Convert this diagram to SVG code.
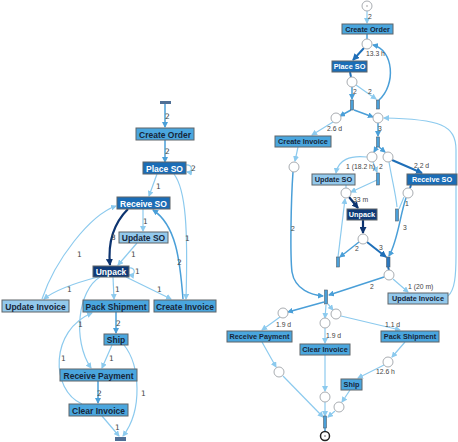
<svg xmlns="http://www.w3.org/2000/svg" width="458" height="442" viewBox="0 0 458 442">
<style>
.box{stroke:#5f6468;stroke-width:1}
.med{fill:#4aa6de}
.dark{fill:#1b6db6}
.navy{fill:#0f3a78}
.light{fill:#93c9ec}
.tl{font-family:"Liberation Sans",Arial,sans-serif;font-weight:bold;font-size:8.5px;text-anchor:middle}
.tr{font-family:"Liberation Sans",Arial,sans-serif;font-weight:bold;font-size:7.3px;text-anchor:middle}
.tw{fill:#ffffff}
.tk{fill:#17263a}
.lbl{font-family:"DejaVu Sans",sans-serif;font-size:7.5px;fill:#444}
.lbr{font-family:"Liberation Sans",Arial,sans-serif;font-size:6.8px;fill:#444}
.e{fill:none}
.el{stroke:#8ccaee;stroke-width:1.2}
.em{stroke:#4a9fd8;stroke-width:1.5}
.ed{stroke:#1f6fb8;stroke-width:2}
.en{stroke:#0d3470;stroke-width:2.2}
.pl{fill:#ffffff;stroke:#a9adb2;stroke-width:1}
.bar{fill:#4a9fd8;stroke:#56606a;stroke-width:0.6}
</style>
<defs>
<marker id="al" markerUnits="userSpaceOnUse" markerWidth="6" markerHeight="6" refX="5" refY="3" orient="auto"><path d="M0,0 L6,3 L0,6 z" fill="#8ccaee"/></marker>
<marker id="am" markerUnits="userSpaceOnUse" markerWidth="6" markerHeight="6" refX="5" refY="3" orient="auto"><path d="M0,0 L6,3 L0,6 z" fill="#4a9fd8"/></marker>
<marker id="ad" markerUnits="userSpaceOnUse" markerWidth="7" markerHeight="7" refX="6" refY="3.5" orient="auto"><path d="M0,0 L7,3.5 L0,7 z" fill="#1f6fb8"/></marker>
<marker id="an" markerUnits="userSpaceOnUse" markerWidth="7" markerHeight="7" refX="6" refY="3.5" orient="auto"><path d="M0,0 L7,3.5 L0,7 z" fill="#0d3470"/></marker>
</defs>
<rect width="458" height="442" fill="#ffffff"/>

<!-- LEFT GRAPH connectors -->
<g id="left-edges">
<path class="e em" d="M165,104 L165,127" marker-end="url(#am)"/>
<path class="e em" d="M165,140 L165,162" marker-end="url(#am)"/>
<path class="e el" d="M186,165 C193,164 193,173 187,172" marker-end="url(#al)"/>
<path class="e el" d="M157,174 L149,196" marker-end="url(#al)"/>
<path class="e el" d="M174,174 C186,190 188,230 186,299" marker-end="url(#al)"/>
<path class="e en" d="M128,209 C112,225 108,245 110,265" marker-end="url(#an)"/>
<path class="e el" d="M143,209 L143,231" marker-end="url(#al)"/>
<path class="e el" d="M137,243 L118,265" marker-end="url(#al)"/>
<path class="e el" d="M129,268 C136,267 136,276 129,275" marker-end="url(#al)"/>
<path class="e em" d="M183,299 C180,260 176,225 153,210" marker-end="url(#am)"/>
<path class="e el" d="M42,299 C55,260 90,215 116,206" marker-end="url(#al)"/>
<path class="e el" d="M98,277 C75,283 55,290 44,299" marker-end="url(#al)"/>
<path class="e el" d="M113,277 L114,299" marker-end="url(#al)"/>
<path class="e el" d="M126,277 L171,299" marker-end="url(#al)"/>
<path class="e el" d="M100,277 C78,290 72,340 91,368" marker-end="url(#al)"/>
<path class="e em" d="M116,312 L116,333" marker-end="url(#am)"/>
<path class="e el" d="M112,345 L102,368" marker-end="url(#al)"/>
<path class="e el" d="M124,345 C140,365 143,410 123,436" marker-end="url(#al)"/>
<path class="e em" d="M98,381 L98,403" marker-end="url(#am)"/>
<path class="e el" d="M102,416 L119,436" marker-end="url(#al)"/>
<path class="e el" d="M82,404 C50,390 50,330 92,313" marker-end="url(#al)"/>
</g>
<g id="left-edge-labels">
<text class="lbl" x="165" y="119">2</text>
<text class="lbl" x="165" y="154">2</text>
<text class="lbl" x="191" y="171">2</text>
<text class="lbl" x="156" y="189">1</text>
<text class="lbl" x="185" y="241">1</text>
<text class="lbl" x="111" y="240">3</text>
<text class="lbl" x="143" y="224">1</text>
<text class="lbl" x="131" y="257">1</text>
<text class="lbl" x="135" y="274">1</text>
<text class="lbl" x="177" y="265">2</text>
<text class="lbl" x="77" y="257">1</text>
<text class="lbl" x="67" y="292">1</text>
<text class="lbl" x="115" y="292">1</text>
<text class="lbl" x="157" y="292">1</text>
<text class="lbl" x="78" y="327">1</text>
<text class="lbl" x="116" y="326">2</text>
<text class="lbl" x="109" y="361">1</text>
<text class="lbl" x="141" y="396">1</text>
<text class="lbl" x="97" y="396">2</text>
<text class="lbl" x="115" y="430">1</text>
<text class="lbl" x="61" y="361">1</text>
</g>

<!-- LEFT GRAPH nodes -->
<g id="l-start"><rect x="160" y="101" width="11" height="3" fill="#4f6f96"/></g>
<g id="l-create-order"><rect class="box med" x="136" y="128" width="58" height="12"/><text class="tl tk" x="165" y="137.5">Create Order</text></g>
<g id="l-place-so"><rect class="box dark" x="143" y="162" width="43" height="12"/><text class="tl tw" x="164.5" y="171.5">Place SO</text></g>
<g id="l-receive-so"><rect class="box dark" x="117" y="197" width="53" height="12"/><text class="tl tw" x="143.5" y="206.5">Receive SO</text></g>
<g id="l-update-so"><rect class="box light" x="119" y="232" width="49" height="11"/><text class="tl tk" x="143.5" y="241">Update SO</text></g>
<g id="l-unpack"><rect class="box navy" x="93" y="266" width="36" height="11"/><text class="tl tw" x="111" y="275">Unpack</text></g>
<g id="l-update-invoice"><rect class="box light" x="2" y="300" width="67" height="12"/><text class="tl tk" x="35.5" y="309.5">Update Invoice</text></g>
<g id="l-pack-shipment"><rect class="box med" x="83" y="300" width="66" height="12"/><text class="tl tk" x="116" y="309.5">Pack Shipment</text></g>
<g id="l-create-invoice"><rect class="box med" x="154" y="300" width="62" height="12"/><text class="tl tk" x="185" y="309.5">Create Invoice</text></g>
<g id="l-ship"><rect class="box med" x="104" y="334" width="24" height="11"/><text class="tl tk" x="116" y="343">Ship</text></g>
<g id="l-receive-payment"><rect class="box med" x="60" y="369" width="77" height="12"/><text class="tl tk" x="98.5" y="378.5">Receive Payment</text></g>
<g id="l-clear-invoice"><rect class="box med" x="69" y="404" width="59" height="12"/><text class="tl tk" x="98.5" y="413.5">Clear Invoice</text></g>
<g id="l-end"><rect x="115" y="437" width="11" height="4" fill="#4f6f96"/></g>

<!-- RIGHT GRAPH connectors -->
<g id="right-edges">
<path class="e el" d="M367,11 L367,23" marker-end="url(#al)"/>
<path class="e em" d="M367,34 L367,39"/>
<path class="e ed" d="M364,48 L353,60" marker-end="url(#ad)"/>
<path class="e ed" d="M350,72 L351,77"/>
<path class="e em" d="M352,87 L352,99" marker-end="url(#am)"/>
<path class="e el" d="M356,85 L376,99" marker-end="url(#al)"/>
<path class="e em" d="M379,100 C396,85 394,50 373,45" marker-end="url(#am)"/>
<path class="e em" d="M351,110 L340,116" marker-end="url(#am)"/>
<path class="e em" d="M354,110 L373,117" marker-end="url(#am)"/>
<path class="e el" d="M333,122 L312,135" marker-end="url(#al)"/>
<path class="e el" d="M298,147 L295,161" marker-end="url(#al)"/>
<path class="e em" d="M293,172 C291,200 290,255 292,272 C295,290 312,295 323,296" marker-end="url(#am)"/>
<path class="e em" d="M378,123 L378,136" marker-end="url(#am)"/>
<path class="e el" d="M448,296 C455,290 456,275 456,255 L456,150 C456,125 440,119 384,118" marker-end="url(#al)"/>
<path class="e em" d="M377,147 L374,152" marker-end="url(#am)"/>
<path class="e em" d="M379,147 L385,152" marker-end="url(#am)"/>
<path class="e el" d="M367,157 C350,155 338,160 336,173" marker-end="url(#al)"/>
<path class="e el" d="M373,162 L377,172" marker-end="url(#al)"/>
<path class="e ed" d="M392,160 L422,173" marker-end="url(#ad)"/>
<path class="e el" d="M389,162 C392,180 396,195 397,207"/>
<path class="e el" d="M377,180 L351,192" marker-end="url(#al)"/>
<path class="e el" d="M346,185 L346,188"/>
<path class="e en" d="M349,197 L358,208" marker-end="url(#an)"/>
<path class="e en" d="M363,220 L363,233" marker-end="url(#an)"/>
<path class="e em" d="M359,242 L340,257" marker-end="url(#am)"/>
<path class="e ed" d="M367,242 L386,257" marker-end="url(#ad)"/>
<path class="e el" d="M338,257 L345,199" marker-end="url(#al)"/>
<path class="e ed" d="M411,185 L410,188"/>
<path class="e em" d="M406,198 C400,215 398,240 389,256" marker-end="url(#am)"/>
<path class="e el" d="M404,197 L399,209"/>
<path class="e ed" d="M388,267 L389,270"/>
<path class="e el" d="M393,279 L408,292" marker-end="url(#al)"/>
<path class="e em" d="M384,277 L329,295" marker-end="url(#am)"/>
<path class="e em" d="M324,302 L288,312" marker-end="url(#am)"/>
<path class="e el" d="M326,305 L325,318" marker-end="url(#al)"/>
<path class="e el" d="M328,304 L333,310" marker-end="url(#al)"/>
<path class="e el" d="M280,317 L262,330" marker-end="url(#al)"/>
<path class="e el" d="M325,328 L325,343" marker-end="url(#al)"/>
<path class="e el" d="M341,316 L400,330" marker-end="url(#al)"/>
<path class="e el" d="M262,342 L276,367" marker-end="url(#al)"/>
<path class="e el" d="M283,376 L323,417" marker-end="url(#al)"/>
<path class="e el" d="M325,355 L325,391" marker-end="url(#al)"/>
<path class="e el" d="M325,402 L325,416" marker-end="url(#al)"/>
<path class="e el" d="M405,342 L392,357" marker-end="url(#al)"/>
<path class="e el" d="M384,365 L358,378" marker-end="url(#al)"/>
<path class="e el" d="M350,390 L342,402" marker-end="url(#al)"/>
<path class="e el" d="M335,411 L328,417" marker-end="url(#al)"/>
<path class="e em" d="M325,428 L325,431"/>
</g>
<g id="right-edge-labels">
<text class="lbr" x="368" y="19">2</text>
<text class="lbr" x="366" y="56">13.3 h</text>
<text class="lbr" x="353" y="94">2</text>
<text class="lbr" x="368" y="94">2</text>
<text class="lbr" x="327" y="131">2.6 d</text>
<text class="lbr" x="378" y="131">3</text>
<text class="lbr" x="291" y="231">2</text>
<text class="lbr" x="346" y="169">1 (18.2 h)</text>
<text class="lbr" x="379" y="169">2</text>
<text class="lbr" x="414" y="168">2.2 d</text>
<text class="lbr" x="353" y="202">33 m</text>
<text class="lbr" x="405" y="206">1</text>
<text class="lbr" x="355" y="251">2</text>
<text class="lbr" x="379" y="250">3</text>
<text class="lbr" x="403" y="230">3</text>
<text class="lbr" x="370" y="289">2</text>
<text class="lbr" x="408" y="289">1 (20 m)</text>
<text class="lbr" x="276" y="327">1.9 d</text>
<text class="lbr" x="326" y="338">1.9 d</text>
<text class="lbr" x="385" y="327">1.1 d</text>
<text class="lbr" x="376" y="374">12.6 h</text>
</g>

<!-- RIGHT GRAPH nodes -->
<g id="r-start"><circle class="pl" cx="367" cy="6" r="5"/><circle cx="367" cy="6" r="0.8" fill="#999"/></g>
<g id="r-create-order"><rect class="box med" x="342" y="24" width="51" height="10"/><text class="tr tk" x="367.5" y="31.8">Create Order</text></g>
<g id="r-p1"><circle class="pl" cx="367" cy="44" r="5"/></g>
<g id="r-place-so"><rect class="box dark" x="332" y="61" width="35" height="11"/><text class="tr tw" x="349.5" y="69.3">Place SO</text></g>
<g id="r-p2"><circle class="pl" cx="352" cy="82" r="5"/></g>
<g id="r-b1"><rect class="bar" x="350.5" y="100" width="3" height="10"/></g>
<g id="r-b2"><rect class="bar" x="376.5" y="100" width="3" height="9"/></g>
<g id="r-p3"><circle class="pl" cx="336" cy="118" r="5"/></g>
<g id="r-p4"><circle class="pl" cx="378" cy="118" r="5"/></g>
<g id="r-create-invoice"><rect class="box med" x="275" y="136" width="56" height="11"/><text class="tr tk" x="303" y="144.3">Create Invoice</text></g>
<g id="r-b3"><rect class="bar" x="376.5" y="137" width="3" height="10"/></g>
<g id="r-p5"><circle class="pl" cx="294" cy="167" r="5"/></g>
<g id="r-p6"><circle class="pl" cx="372" cy="157" r="5"/></g>
<g id="r-p7"><circle class="pl" cx="388" cy="157" r="5"/></g>
<g id="r-update-so"><rect class="box light" x="312" y="174" width="43" height="11"/><text class="tr tk" x="333.5" y="182.3">Update SO</text></g>
<g id="r-receive-so"><rect class="box dark" x="407" y="174" width="50" height="11"/><text class="tr tw" x="432" y="182.3">Receive SO</text></g>
<g id="r-b4"><rect class="bar" x="376.5" y="173" width="3" height="12"/></g>
<g id="r-p8"><circle class="pl" cx="346" cy="193" r="5"/></g>
<g id="r-p9"><circle class="pl" cx="408" cy="193" r="5"/></g>
<g id="r-unpack"><rect class="box navy" x="347" y="209" width="30" height="11"/><text class="tr tw" x="362" y="217.3">Unpack</text></g>
<g id="r-b5"><rect class="bar" x="395.5" y="209" width="3" height="12" fill="#9ccbea"/></g>
<g id="r-p10"><circle class="pl" cx="363" cy="239" r="5"/></g>
<g id="r-b6"><rect class="bar" x="336.5" y="257" width="3" height="10"/></g>
<g id="r-b7"><rect class="bar" x="386.5" y="257" width="3.5" height="10" style="fill:#2a78c0"/></g>
<g id="r-p11"><circle class="pl" cx="389" cy="275" r="5"/></g>
<g id="r-update-invoice"><rect class="box light" x="388" y="293" width="60" height="11"/><text class="tr tk" x="418" y="301.3">Update Invoice</text></g>
<g id="r-b8"><rect class="bar" x="324.5" y="290" width="3" height="14"/></g>
<g id="r-p12"><circle class="pl" cx="283" cy="313" r="5"/></g>
<g id="r-p13"><circle class="pl" cx="325" cy="323" r="5"/></g>
<g id="r-p14"><circle class="pl" cx="336" cy="314" r="5"/></g>
<g id="r-receive-payment"><rect class="box med" x="227" y="331" width="65" height="11"/><text class="tr tk" x="259.5" y="339.3">Receive Payment</text></g>
<g id="r-pack-shipment"><rect class="box med" x="381" y="331" width="58" height="11"/><text class="tr tk" x="410" y="339.3">Pack Shipment</text></g>
<g id="r-clear-invoice"><rect class="box med" x="300" y="344" width="50" height="11"/><text class="tr tk" x="325" y="352.3">Clear Invoice</text></g>
<g id="r-p15"><circle class="pl" cx="388" cy="362" r="5"/></g>
<g id="r-p16"><circle class="pl" cx="279" cy="372" r="5"/></g>
<g id="r-ship"><rect class="box med" x="341" y="379" width="21" height="11"/><text class="tr tk" x="351.5" y="387.3">Ship</text></g>
<g id="r-p17"><circle class="pl" cx="325" cy="397" r="5"/></g>
<g id="r-p18"><circle class="pl" cx="339" cy="407" r="5"/></g>
<g id="r-b9"><rect class="bar" x="323.5" y="416" width="3" height="12"/></g>
<g id="r-end"><circle cx="325" cy="436" r="4.5" fill="#ffffff" stroke="#222" stroke-width="1.5"/><circle cx="325" cy="436" r="0.8" fill="#555"/></g>
</svg>
